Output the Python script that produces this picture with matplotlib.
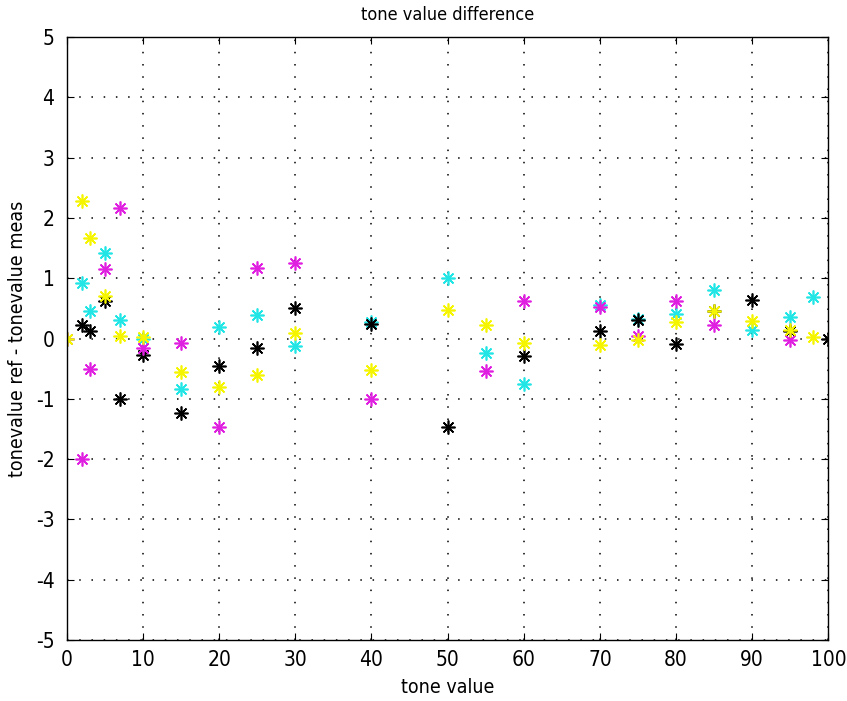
import matplotlib
matplotlib.use("Agg")
import matplotlib.pyplot as plt
import numpy as np

nan = np.nan

# tone values (x) and the ref - meas differences per ink channel
tone = [0, 2, 3, 5, 7, 10, 15, 20, 25, 30, 40, 50, 55, 60, 70, 75, 80, 85, 90, 95, 98, 100]
cyan = [0, 0.93, 0.45, 1.42, 0.30, 0.0, -0.83, 0.19, 0.39, -0.13, 0.28, 1.00, -0.24, -0.75,
        0.55, 0.32, 0.41, 0.80, 0.15, 0.35, 0.69, nan]
black = [nan, 0.22, 0.12, 0.63, -1.00, -0.28, -1.24, -0.46, -0.16, 0.50, 0.25, -1.47, nan, -0.29,
         0.13, 0.31, -0.09, 0.45, 0.64, 0.13, nan, 0.0]
magenta = [0, -2.00, -0.50, 1.16, 2.16, -0.16, -0.07, -1.47, 1.17, 1.26, -1.01, nan, -0.54, 0.62,
           0.53, 0.05, 0.63, 0.23, nan, -0.02, nan, nan]
yellow = [0, 2.29, 1.67, 0.70, 0.04, 0.02, -0.56, -0.81, -0.60, 0.10, -0.52, 0.48, 0.23, -0.07,
          -0.10, -0.03, 0.27, 0.45, 0.29, 0.15, 0.03, nan]

plt.rcParams['font.family'] = ['DejaVu Sans']
plt.rcParams['font.stretch'] = 'condensed'
plt.rcParams['axes.unicode_minus'] = False

fig = plt.figure(figsize=(8.47, 7.01), dpi=100)
ax = fig.add_axes([0.079, 0.087, 0.899, 0.860])

star = (8, 2, 0)
ax.plot(tone, cyan, linestyle='none', marker=star, color='#22e5e5', markersize=10, mew=1.2)
ax.plot(tone, black, linestyle='none', marker=star, color='black', markersize=10, mew=1.2)
ax.plot(tone, magenta, linestyle='none', marker=star, color='#e020e0', markersize=10, mew=1.2)
ax.plot(tone, yellow, linestyle='none', marker=star, color='#f5f500', markersize=10, mew=1.2)

ax.set_xlim(0, 100)
ax.set_ylim(-5, 5)
ax.set_xticks(np.arange(0, 101, 10))
ax.set_yticks(np.arange(-5, 6, 1))
ax.grid(True, color='black', linestyle=(0, (1, 7)), linewidth=1.1)
ax.tick_params(axis='x', pad=7)
ax.tick_params(axis='y', pad=9)
ax.tick_params(direction='in', length=5, labelsize=15, top=True, right=True,
               labeltop=False, labelright=False)
for s in ax.spines.values():
    s.set_linewidth(1)

ax.set_xlabel('tone value', fontsize=14, labelpad=6)
ax.set_ylabel('tonevalue ref - tonevalue meas', fontsize=14, labelpad=6)
ax.set_title('tone value difference', fontsize=13, pad=12)

fig.savefig('out.png', dpi=100)
